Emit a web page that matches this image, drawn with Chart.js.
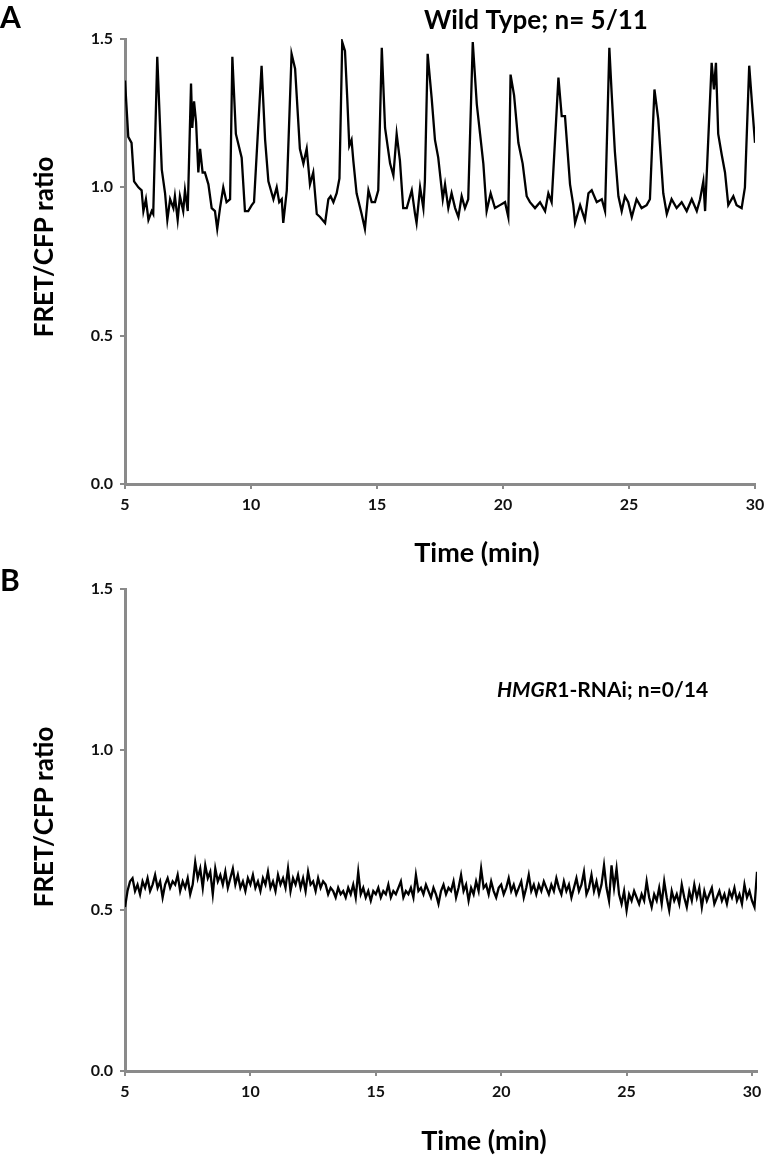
<!DOCTYPE html>
<html>
<head>
<meta charset="utf-8">
<script src="https://cdn.jsdelivr.net/npm/chart.js@4.4.1/dist/chart.umd.min.js"></script>
<style>
  body { margin: 0; background: #fff; width: 780px; height: 1170px; position: relative; overflow: hidden; }
  canvas { position: absolute; left: 0; }
  #wt { top: 0; }
  #rnai { top: 560px; }
</style>
</head>
<body>
<canvas id="wt" width="780" height="575"></canvas>
<canvas id="rnai" width="780" height="610"></canvas>
<script>
// Panel A: wild type, time (min) and FRET/CFP ratio
const wtTime = [
  5.00, 5.13, 5.26, 5.36, 5.53, 5.66, 5.73, 5.83, 5.93, 6.06,
  6.12, 6.28, 6.46, 6.59, 6.68, 6.79, 6.92, 6.98, 7.09, 7.18,
  7.31, 7.38, 7.49, 7.62, 7.67, 7.74, 7.82, 7.91, 7.98, 8.08,
  8.17, 8.31, 8.44, 8.57, 8.66, 8.77, 8.90, 9.03, 9.17, 9.26,
  9.40, 9.63, 9.76, 9.89, 10.03, 10.12, 10.42, 10.56, 10.69, 10.89,
  11.02, 11.12, 11.22, 11.28, 11.42, 11.61, 11.75, 11.94, 12.08, 12.21,
  12.34, 12.47, 12.61, 12.74, 12.94, 13.07, 13.16, 13.27, 13.40, 13.51,
  13.62, 13.73, 13.82, 13.90, 13.99, 14.06, 14.19, 14.39, 14.52, 14.66,
  14.79, 14.92, 15.05, 15.19, 15.32, 15.52, 15.65, 15.78, 15.91, 16.04,
  16.18, 16.38, 16.51, 16.57, 16.71, 16.84, 16.90, 17.01, 17.17, 17.30,
  17.43, 17.61, 17.70, 17.83, 17.96, 18.10, 18.23, 18.36, 18.49, 18.62,
  18.80, 18.96, 19.09, 19.22, 19.35, 19.51, 19.68, 19.88, 20.08, 20.21,
  20.30, 20.44, 20.61, 20.78, 20.94, 21.07, 21.27, 21.47, 21.67, 21.80,
  21.93, 22.20, 22.33, 22.46, 22.66, 22.79, 22.86, 23.06, 23.25, 23.39,
  23.52, 23.72, 23.92, 24.05, 24.22, 24.31, 24.44, 24.58, 24.71, 24.84,
  24.97, 25.11, 25.30, 25.50, 25.70, 25.83, 26.01, 26.16, 26.36, 26.50,
  26.69, 26.89, 27.09, 27.29, 27.49, 27.69, 27.82, 27.95, 28.02, 28.28,
  28.37, 28.45, 28.54, 28.68, 28.81, 28.94, 29.14, 29.27, 29.47, 29.60,
  29.77, 29.91, 30.00
];
const wtRatio = [
  1.36, 1.17, 1.15, 1.02, 1.00, 0.99, 0.92, 0.96, 0.89, 0.92,
  0.91, 1.44, 1.06, 0.98, 0.89, 0.96, 0.93, 0.97, 0.89, 0.97,
  0.92, 0.99, 0.92, 1.35, 1.20, 1.29, 1.22, 1.05, 1.13, 1.05,
  1.05, 1.01, 0.93, 0.92, 0.86, 0.93, 1.00, 0.95, 0.96, 1.44,
  1.18, 1.10, 0.92, 0.92, 0.94, 0.95, 1.41, 1.16, 1.02, 0.96,
  1.00, 0.95, 0.96, 0.88, 0.99, 1.45, 1.40, 1.13, 1.08, 1.13,
  1.01, 1.05, 0.91, 0.90, 0.88, 0.96, 0.97, 0.95, 0.98, 1.03,
  1.49, 1.46, 1.30, 1.14, 1.16, 1.09, 0.98, 0.91, 0.86, 0.99,
  0.95, 0.95, 0.99, 1.47, 1.20, 1.08, 1.04, 1.18, 1.09, 0.93,
  0.93, 0.99, 0.91, 0.88, 1.00, 0.93, 1.02, 1.45, 1.30, 1.16,
  1.10, 0.96, 1.01, 0.93, 0.98, 0.93, 0.90, 0.97, 0.93, 0.96,
  1.49, 1.28, 1.18, 1.08, 0.92, 0.98, 0.93, 0.94, 0.95, 0.90,
  1.38, 1.31, 1.15, 1.08, 0.97, 0.95, 0.93, 0.95, 0.92, 0.98,
  0.95, 1.37, 1.24, 1.24, 1.01, 0.94, 0.88, 0.94, 0.89, 0.98,
  0.99, 0.95, 0.96, 0.92, 1.47, 1.32, 1.12, 0.97, 0.92, 0.97,
  0.95, 0.90, 0.96, 0.93, 0.94, 0.96, 1.33, 1.23, 0.98, 0.91,
  0.96, 0.93, 0.95, 0.92, 0.96, 0.92, 0.96, 1.02, 0.92, 1.42,
  1.33, 1.42, 1.18, 1.11, 1.05, 0.94, 0.97, 0.94, 0.93, 1.00,
  1.41, 1.25, 1.15
];

// Panel B: HMGR1-RNAi, one sample every 0.1 min from 5.0 min (one row per minute)
const rnaiStart = 5;
const rnaiStep = 0.1;
const rnaiRatio = [
  0.51, 0.56, 0.59, 0.60, 0.56, 0.58, 0.55, 0.59, 0.57, 0.60,
  0.56, 0.58, 0.61, 0.57, 0.59, 0.54, 0.58, 0.60, 0.57, 0.59,
  0.58, 0.61, 0.56, 0.59, 0.57, 0.60, 0.55, 0.58, 0.65, 0.60,
  0.63, 0.57, 0.64, 0.60, 0.62, 0.55, 0.63, 0.59, 0.61, 0.58,
  0.62, 0.57, 0.60, 0.63, 0.58, 0.61, 0.57, 0.59, 0.56, 0.60,
  0.58, 0.61, 0.57, 0.59, 0.56, 0.60, 0.58, 0.62, 0.57, 0.59,
  0.56, 0.61, 0.58, 0.60, 0.57, 0.63, 0.56, 0.60, 0.58, 0.61,
  0.57, 0.60, 0.56, 0.62, 0.58, 0.59, 0.56, 0.60, 0.57, 0.59,
  0.58, 0.55, 0.57, 0.56, 0.54, 0.57, 0.55, 0.56, 0.54, 0.57,
  0.55, 0.58, 0.54, 0.62, 0.55, 0.57, 0.54, 0.56, 0.53, 0.56,
  0.55, 0.57, 0.54, 0.56, 0.55, 0.58, 0.54, 0.56, 0.55, 0.57,
  0.59, 0.54, 0.56, 0.55, 0.57, 0.54, 0.61, 0.56, 0.57, 0.55,
  0.58, 0.56, 0.54, 0.57, 0.55, 0.52, 0.56, 0.58, 0.55, 0.57,
  0.56, 0.59, 0.54, 0.57, 0.61, 0.56, 0.58, 0.53, 0.57, 0.55,
  0.59, 0.56, 0.63, 0.57, 0.58, 0.55, 0.59, 0.56, 0.54, 0.57,
  0.58, 0.55, 0.57, 0.60, 0.56, 0.58, 0.55, 0.57, 0.59, 0.54,
  0.57, 0.61, 0.56, 0.58, 0.55, 0.58, 0.56, 0.59, 0.57, 0.55,
  0.58, 0.56, 0.60, 0.57, 0.55, 0.59, 0.56, 0.58, 0.54, 0.57,
  0.60, 0.56, 0.58, 0.62, 0.55, 0.57, 0.61, 0.56, 0.59, 0.55,
  0.58, 0.64, 0.57, 0.53, 0.64, 0.57, 0.63, 0.55, 0.52, 0.56,
  0.50, 0.55, 0.53, 0.56, 0.54, 0.52, 0.55, 0.53, 0.59, 0.54,
  0.51, 0.55, 0.53, 0.57, 0.52, 0.59, 0.54, 0.50, 0.56, 0.53,
  0.55, 0.52, 0.58, 0.54, 0.51, 0.56, 0.53, 0.58, 0.54, 0.57,
  0.51, 0.56, 0.53, 0.55, 0.57, 0.52, 0.54, 0.56, 0.53, 0.55,
  0.52, 0.56, 0.54, 0.57, 0.53, 0.55, 0.52, 0.58, 0.54, 0.56,
  0.53, 0.51, 0.62, 0.55, 0.48
];

const yTicks = [0, 0.5, 1.0, 1.5];
const xTicks = [5, 10, 15, 20, 25, 30];

const FONT = "Lato, 'Open Sans', sans-serif";
const GREY = "#8a8a8a";
const INK = "#111";

function makeScales(xMax, xAxisHeight) {
  return {
    x: {
      type: "linear",
      min: 5,
      max: xMax,
      afterBuildTicks: axis => { axis.ticks = xTicks.map(v => ({ value: v })); },
      afterFit: s => { s.height = xAxisHeight; },
      ticks: { color: INK, padding: 6, maxRotation: 0, font: { family: FONT, size: 16, weight: "bold" } },
      grid: { drawOnChartArea: false, drawTicks: true, tickLength: 5, color: GREY, lineWidth: 2 },
      border: { color: GREY, width: 3 }
    },
    y: {
      min: 0,
      max: 1.5,
      afterBuildTicks: axis => { axis.ticks = yTicks.map(v => ({ value: v })); },
      afterFit: s => { s.width = 125; },
      ticks: { color: INK, padding: 7, callback: v => v.toFixed(1), font: { family: FONT, size: 16, weight: "bold" } },
      grid: { drawOnChartArea: false, drawTicks: true, tickLength: 5, color: GREY, lineWidth: 2 },
      border: { color: GREY, width: 3 }
    }
  };
}

function traceDataset(points) {
  return {
    data: points,
    borderColor: "#000",
    borderWidth: 2.3,
    pointRadius: 0,
    tension: 0,
    fill: false
  };
}

// Panel letter, axis titles and in-plot annotation
function panelText(letter, letterY, yTitleY, xTitle, drawNote) {
  return {
    id: "panelText",
    afterDraw(chart) {
      const ctx = chart.ctx;
      ctx.save();
      ctx.fillStyle = "#000";
      ctx.textBaseline = "middle";
      ctx.textAlign = "left";
      ctx.font = "bold 30px " + FONT;
      ctx.fillText(letter, 0, letterY);

      ctx.textAlign = "center";
      ctx.font = "bold 27px " + FONT;
      ctx.fillText("Time (min)", xTitle.x, xTitle.y);

      ctx.save();
      ctx.translate(45, yTitleY);
      ctx.rotate(-Math.PI / 2);
      ctx.font = "bold 26px " + FONT;
      ctx.fillText("FRET/CFP ratio", 0, 0);
      ctx.restore();

      drawNote(ctx);
      ctx.restore();
    }
  };
}

new Chart(document.getElementById("wt"), {
  type: "line",
  data: { datasets: [traceDataset(wtTime.map((t, i) => ({ x: t, y: wtRatio[i] })))] },
  options: {
    responsive: false,
    animation: false,
    layout: { padding: { top: 39, right: 25, left: 0, bottom: 0 } },
    scales: makeScales(30, 91),
    plugins: { legend: { display: false }, tooltip: { enabled: false } }
  },
  plugins: [panelText("A", 18, 247, { x: 477, y: 553 }, ctx => {
    ctx.font = "bold 26px " + FONT;
    ctx.textAlign = "center";
    ctx.fillText("Wild Type; n= 5/11", 536, 21);
  })]
});

new Chart(document.getElementById("rnai"), {
  type: "line",
  data: { datasets: [traceDataset(rnaiRatio.map((v, i) => ({ x: rnaiStart + i * rnaiStep, y: v })))] },
  options: {
    responsive: false,
    animation: false,
    layout: { padding: { top: 29, right: 23, left: 0, bottom: 0 } },
    scales: makeScales(30.2, 99),
    plugins: { legend: { display: false }, tooltip: { enabled: false } }
  },
  plugins: [panelText("B", 21, 257, { x: 484, y: 581 }, ctx => {
    ctx.textAlign = "left";
    ctx.font = "italic bold 21px " + FONT;
    const head = "HMGR";
    ctx.fillText(head, 497, 130);
    const w = ctx.measureText(head).width;
    ctx.font = "bold 21px " + FONT;
    ctx.fillText("1-RNAi; n=0/14", 497 + w, 130);
  })]
});
</script>
</body>
</html>
